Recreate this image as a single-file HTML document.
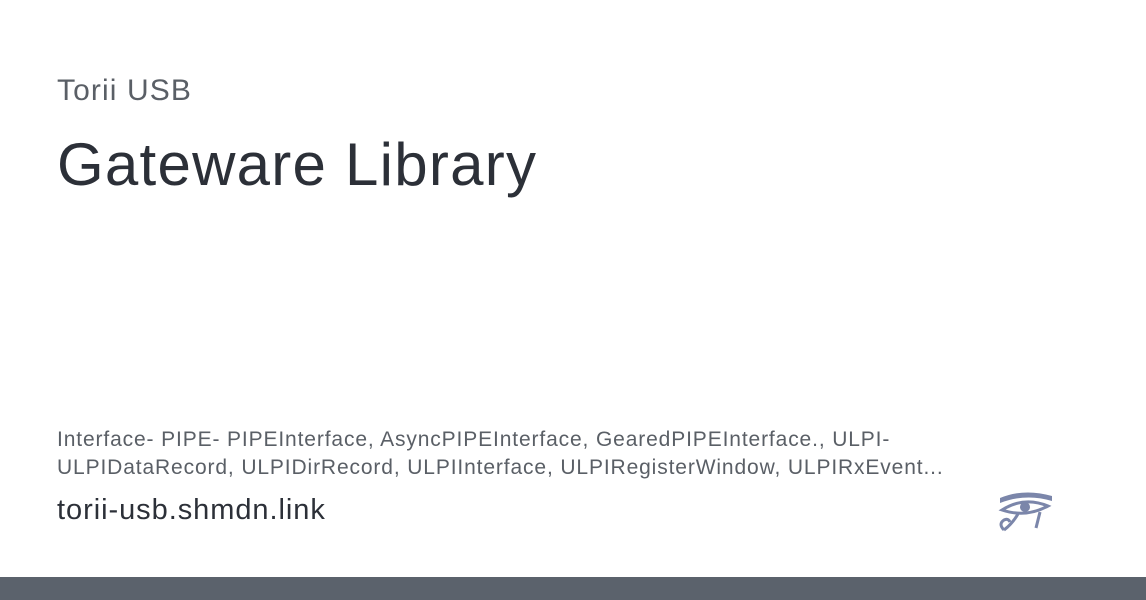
<!DOCTYPE html>
<html><head><style>
body{margin:0;width:1146px;height:600px;background:#fff;position:relative;overflow:hidden;font-family:"Liberation Sans",sans-serif}
.t{position:absolute;left:57px;white-space:nowrap}
</style></head><body>
<div class="t" style="top:74px;font-size:30px;color:#5a5f66;letter-spacing:1.1px">Torii USB</div>
<div class="t" style="top:130px;font-size:60px;color:#2c3038;letter-spacing:1.25px">Gateware Library</div>
<div class="t" style="top:426px;font-size:21px;color:#5a5f66;line-height:28px;letter-spacing:0.87px">Interface- PIPE- PIPEInterface, AsyncPIPEInterface, GearedPIPEInterface., ULPI-<br>ULPIDataRecord, ULPIDirRecord, ULPIInterface, ULPIRegisterWindow, ULPIRxEvent...</div>
<div class="t" style="top:494px;font-size:29px;color:#2c3038;letter-spacing:0.95px">torii-usb.shmdn.link</div>
<svg style="position:absolute;left:996px;top:490px" width="60" height="42" viewBox="0 0 60 42">
<g fill="#7b86aa" stroke="#7b86aa">
<path d="M4 8 Q28 -2 56 6 L56 11 Q30 3 4 13Z" stroke="none"/>
<path d="M6 20 Q28 6 52 16 Q30 28 6 20Z" fill="none" stroke-width="3"/>
<circle cx="29" cy="17" r="5" stroke="none"/>
<path d="M8 40 Q2 34 8 30 Q12 28 14 32" fill="none" stroke-width="3"/>
<path d="M22 24 Q16 34 8 40" fill="none" stroke-width="3"/>
<path d="M44 22 L40 38" fill="none" stroke-width="3"/>
</g></svg>
<div style="position:absolute;left:0;top:577px;width:1146px;height:23px;background:#5b626c"></div>
</body></html>
